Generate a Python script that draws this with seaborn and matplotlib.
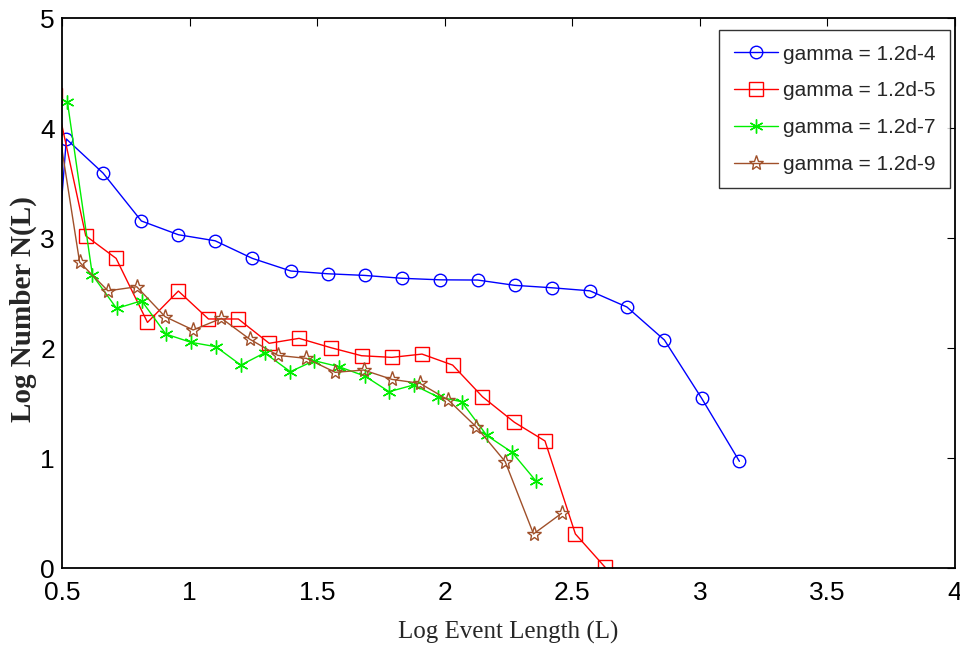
import matplotlib
matplotlib.use("Agg")
import matplotlib.pyplot as plt
from matplotlib import font_manager
import seaborn as sns
import pandas as pd

# ---- data ----
blue_x = [0.371, 0.517, 0.661, 0.811, 0.956, 1.100, 1.246, 1.397, 1.542, 1.687, 1.832,
          1.981, 2.129, 2.274, 2.419, 2.569, 2.714, 2.861, 3.007, 3.155]
blue_y = [-0.5, 3.90, 3.59, 3.155, 3.03, 2.975, 2.815, 2.70, 2.675, 2.66, 2.634,
          2.62, 2.618, 2.57, 2.548, 2.52, 2.373, 2.073, 1.543, 0.97]

red_x = [0.474, 0.593, 0.712, 0.835, 0.956, 1.074, 1.191, 1.312, 1.429, 1.554, 1.674,
         1.793, 1.911, 2.031, 2.148, 2.273, 2.393, 2.512, 2.629]
red_y = [4.30, 3.02, 2.815, 2.233, 2.518, 2.264, 2.264, 2.043, 2.088, 2.003, 1.93,
         1.915, 1.945, 1.845, 1.557, 1.325, 1.155, 0.31, 0.006]

green_x = [0.521, 0.619, 0.714, 0.812, 0.907, 1.005, 1.103, 1.201, 1.294, 1.395, 1.488,
           1.586, 1.687, 1.782, 1.878, 1.972, 2.066, 2.165, 2.264, 2.358]
green_y = [4.24, 2.664, 2.36, 2.43, 2.127, 2.052, 2.012, 1.845, 1.956, 1.785, 1.885,
           1.83, 1.745, 1.603, 1.664, 1.557, 1.512, 1.205, 1.052, 0.79]

brown_x = [0.459, 0.569, 0.680, 0.793, 0.904, 1.014, 1.125, 1.236, 1.346, 1.458, 1.571,
           1.682, 1.793, 1.903, 2.014, 2.124, 2.237, 2.348, 2.458]
brown_y = [4.41, 2.78, 2.52, 2.557, 2.285, 2.164, 2.27, 2.08, 1.933, 1.906, 1.779,
           1.80, 1.715, 1.679, 1.527, 1.282, 0.967, 0.31, 0.497]

series_labels = ["gamma = 1.2d-4", "gamma = 1.2d-5", "gamma = 1.2d-7", "gamma = 1.2d-9"]
x_ticks = [0.5, 1, 1.5, 2, 2.5, 3, 3.5, 4]
x_tick_labels = ["0.5", "1", "1.5", "2", "2.5", "3", "3.5", "4"]
y_ticks = [0, 1, 2, 3, 4, 5]
y_tick_labels = ["0", "1", "2", "3", "4", "5"]
x_label = "Log Event Length (L)"
y_label = "Log Number N(L)"

sns.set_theme(style="white")


def pick(fams):
    for f in fams:
        try:
            font_manager.findfont(f, fallback_to_default=False)
            return f
        except Exception:
            continue
    return "DejaVu Sans"


sans = pick(["Liberation Sans Narrow", "Liberation Sans", "DejaVu Sans"])
serif = pick(["Liberation Serif", "DejaVu Serif"])
plt.rcParams["font.family"] = [sans, "DejaVu Sans"]

fig = plt.figure(figsize=(9.6, 6.46), dpi=100)
ax = fig.add_axes([0.0646, 0.1207, 0.9302, 0.8514])

frames = []
for xs, ys, lab in [(blue_x, blue_y, series_labels[0]), (red_x, red_y, series_labels[1]),
                    (green_x, green_y, series_labels[2]), (brown_x, brown_y, series_labels[3])]:
    frames.append(pd.DataFrame({"x": xs, "y": ys, "series": lab}))
df = pd.concat(frames, ignore_index=True)

styles = {
    series_labels[0]: dict(color="#0000ff", marker="o", ms=9),
    series_labels[1]: dict(color="#ff0000", marker="s", ms=10),
    series_labels[2]: dict(color="#00ee00", marker=(6, 2, 0), ms=10),
    series_labels[3]: dict(color="#a0502a", marker="*", ms=11),
}

for lab in series_labels:
    sub = df[df["series"] == lab]
    st = styles[lab]
    sns.lineplot(data=sub, x="x", y="y", ax=ax, sort=False, estimator=None,
                 color=st["color"], marker=st["marker"], markersize=st["ms"],
                 markerfacecolor="none", markeredgecolor=st["color"],
                 markeredgewidth=1.0, linewidth=1.0, label=lab)

ax.set_xlim(0.5, 4)
ax.set_ylim(0, 5)
ax.set_xticks(x_ticks)
ax.set_xticklabels(x_tick_labels)
ax.set_yticks(y_ticks)
ax.set_yticklabels(y_tick_labels)
ax.tick_params(direction="in", top=True, right=True, length=6, width=0.8,
               labelsize=19, colors="black")
ax.tick_params(axis="x", pad=9)
ax.tick_params(axis="y", pad=5)
for lbl in ax.get_xticklabels() + ax.get_yticklabels():
    lbl.set_fontfamily([sans, "DejaVu Sans"])
for sp in ax.spines.values():
    sp.set_color("black")
    sp.set_linewidth(1.3)
ax.grid(False)

ax.set_xlabel(x_label, fontsize=18, fontfamily=serif, labelpad=12)
ax.set_ylabel(y_label, fontsize=21, fontfamily=serif, fontweight="bold")
ax.yaxis.set_label_coords(-0.028, 0.47)

leg = ax.legend(loc="upper right", bbox_to_anchor=(0.9944, 0.978), frameon=True,
                fancybox=False, fontsize=15, handlelength=2.1, labelspacing=0.85,
                borderaxespad=0.0, borderpad=0.7, handletextpad=0.25)
leg.get_frame().set_edgecolor("black")
leg.get_frame().set_linewidth(1.0)
for t in leg.get_texts():
    t.set_fontfamily([sans, "DejaVu Sans"])

fig.savefig("out.png", dpi=100)
